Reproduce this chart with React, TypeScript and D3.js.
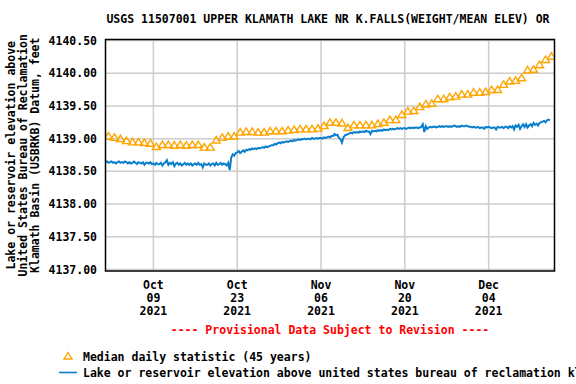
import React from 'react';
import * as d3 from 'd3';

const W = 576;
const H = 384;

const title = 'USGS 11507001 UPPER KLAMATH LAKE NR K.FALLS(WEIGHT/MEAN ELEV) OR';
const yTitleLines = [
  'Lake or reservoir elevation above',
  'United States Bureau of Reclamation',
  'Klamath Basin (USBRKB) Datum, feet',
];
const yTicks = [4137.0, 4137.5, 4138.0, 4138.5, 4139.0, 4139.5, 4140.0, 4140.5];
const xTickDates = ['2021-10-09', '2021-10-23', '2021-11-06', '2021-11-20', '2021-12-04'];
const legendMedian = 'Median daily statistic (45 years)';
const legendSeries =
  'Lake or reservoir elevation above united states bureau of reclamation klamath basin (usbrkb) datum, feet';

// daily median, Oct 1 .. Dec 14 (one per day, plotted at noon)
const medianValues = [
  4139.04, 4139.02, 4139.0, 4138.97, 4138.95, 4138.95, 4138.94, 4138.93, 4138.88, 4138.91,
  4138.91, 4138.9, 4138.91, 4138.9, 4138.91, 4138.91, 4138.87, 4138.87, 4138.98, 4139.02,
  4139.04, 4139.04, 4139.1, 4139.11, 4139.11, 4139.1, 4139.1, 4139.12, 4139.12, 4139.12,
  4139.13, 4139.14, 4139.15, 4139.15, 4139.15, 4139.16, 4139.2, 4139.25, 4139.25, 4139.24,
  4139.17, 4139.21, 4139.21, 4139.21, 4139.21, 4139.23, 4139.25, 4139.29, 4139.29, 4139.37,
  4139.42, 4139.43, 4139.49, 4139.53, 4139.54, 4139.61, 4139.61, 4139.64, 4139.65, 4139.68,
  4139.68, 4139.71, 4139.71, 4139.72, 4139.75, 4139.75, 4139.83, 4139.88, 4139.89, 4139.93,
  4140.05, 4140.06, 4140.13, 4140.21, 4140.26,
];

// lake elevation, every 6 hours from Oct 1 00:00
const elevValues = [
  4138.64, 4138.65, 4138.63, 4138.64, 4138.65, 4138.63, 4138.64, 4138.62,
  4138.64, 4138.65, 4138.63, 4138.64, 4138.63, 4138.65, 4138.64, 4138.62,
  4138.64, 4138.62, 4138.63, 4138.65, 4138.63, 4138.61, 4138.64, 4138.63,
  4138.62, 4138.64, 4138.6, 4138.63, 4138.63, 4138.62, 4138.64, 4138.61,
  4138.62, 4138.6, 4138.63, 4138.61, 4138.61, 4138.63, 4138.59, 4138.62,
  4138.64, 4138.67, 4138.6, 4138.63, 4138.61, 4138.64, 4138.58, 4138.62,
  4138.63, 4138.6, 4138.62, 4138.59, 4138.61, 4138.63, 4138.6, 4138.62,
  4138.6, 4138.62, 4138.59, 4138.61, 4138.62, 4138.6, 4138.63, 4138.6,
  4138.61, 4138.56, 4138.62, 4138.6, 4138.6, 4138.62, 4138.59, 4138.61,
  4138.62, 4138.59, 4138.63, 4138.6, 4138.61, 4138.63, 4138.6, 4138.62,
  4138.61, 4138.59, 4138.63, 4138.52, 4138.71, 4138.76, 4138.74, 4138.78,
  4138.79, 4138.81, 4138.78, 4138.8, 4138.82, 4138.8, 4138.83, 4138.82,
  4138.84, 4138.83, 4138.85, 4138.84, 4138.85, 4138.84, 4138.86, 4138.85,
  4138.86, 4138.87, 4138.86, 4138.88, 4138.87, 4138.88, 4138.89, 4138.9,
  4138.9, 4138.92, 4138.91, 4138.93, 4138.94, 4138.93, 4138.95, 4138.94,
  4138.95, 4138.96, 4138.95, 4138.96, 4138.97, 4138.96, 4138.98, 4138.97,
  4138.98, 4138.99, 4138.98, 4138.99, 4138.99, 4139.0, 4138.99, 4139.0,
  4139.0, 4138.99, 4139.01, 4139.0, 4139.0, 4139.01, 4139.0, 4139.01,
  4139.01, 4139.0, 4139.02, 4139.01, 4139.02, 4139.03, 4139.02, 4139.04,
  4139.04, 4139.07, 4139.05, 4139.06, 4139.01, 4138.99, 4138.94, 4139.02,
  4139.05, 4139.06, 4139.07, 4139.08, 4139.09, 4139.08, 4139.1, 4139.09,
  4139.1, 4139.09, 4139.11, 4139.1, 4139.11, 4139.1, 4139.12, 4139.11,
  4139.11, 4139.07, 4139.12, 4139.11, 4139.12, 4139.11, 4139.13, 4139.12,
  4139.13, 4139.12, 4139.14, 4139.13, 4139.14, 4139.13, 4139.15, 4139.14,
  4139.15, 4139.14, 4139.15, 4139.16, 4139.15, 4139.16, 4139.15, 4139.16,
  4139.16, 4139.15, 4139.16, 4139.17, 4139.16, 4139.17, 4139.16, 4139.17,
  4139.17, 4139.16, 4139.17, 4139.18, 4139.22, 4139.1, 4139.19, 4139.15,
  4139.17, 4139.18, 4139.17, 4139.18, 4139.18, 4139.17, 4139.18, 4139.19,
  4139.18, 4139.19, 4139.18, 4139.19, 4139.19, 4139.18, 4139.19, 4139.18,
  4139.19, 4139.2, 4139.19, 4139.18, 4139.19, 4139.18, 4139.2, 4139.19,
  4139.19, 4139.2, 4139.19, 4139.18, 4139.18, 4139.17, 4139.18, 4139.17,
  4139.17, 4139.18, 4139.16, 4139.17, 4139.17, 4139.15, 4139.18, 4139.17,
  4139.18, 4139.17, 4139.16, 4139.17, 4139.17, 4139.14, 4139.18, 4139.17,
  4139.17, 4139.18, 4139.16, 4139.18, 4139.18, 4139.16, 4139.19, 4139.17,
  4139.19, 4139.14, 4139.2, 4139.18, 4139.21, 4139.15, 4139.19, 4139.22,
  4139.18, 4139.22, 4139.17, 4139.2, 4139.22, 4139.19, 4139.24, 4139.21,
  4139.23, 4139.2, 4139.24, 4139.25, 4139.26, 4139.27, 4139.25, 4139.28,
  4139.29, 4139.28,
];

const font = '"DejaVu Sans Mono", monospace';
const fs = 11.5;
const orange = '#ffa500';
const blue = '#0a7fcc';

const App = () => {
  const left = 105.5;
  const right = 554.5;
  const top = 39.5;
  const bottom = 271;

  const start = Date.UTC(2021, 9, 1);
  const DAY = 86400000;
  const x = d3.scaleUtc().domain([new Date(start), new Date(Date.UTC(2021, 11, 15))]).range([left, right]);
  const y = d3.scaleLinear().domain([4137, 4140.5]).range([269.5, 40.5]);

  const elev = elevValues.map((v, i) => ({ t: new Date(start + i * DAY / 4), v }));
  const med = medianValues.map((v, i) => ({ t: new Date(start + i * DAY + DAY / 2), v }));

  const line = d3.line<{ t: Date; v: number }>().x(d => x(d.t)).y(d => y(d.v));
  const tri = 'M0,-3.5L4,3L-4,3Z';
  const fmtMon = d3.utcFormat('%b');
  const fmtDay = d3.utcFormat('%d');
  const fmtYr = d3.utcFormat('%Y');
  const midY = (top + bottom) / 2;

  return (
    <svg width={W} height={H} style={{ position: 'absolute', left: 0, top: 0, background: '#fff' }}
      fontFamily={font} fontWeight="bold" fontSize={fs}>
      <defs>
        <clipPath id="plotClip">
          <rect x={left} y={top} width={right - left} height={bottom - top} />
        </clipPath>
      </defs>
      <text x={328} y={23} textAnchor="middle">{title}</text>

      {/* grid */}
      <g stroke="#cccccc" strokeWidth={1.5}>
        {yTicks.map(t => <line key={t} x1={left} x2={right} y1={y(t)} y2={y(t)} />)}
        {xTickDates.map(s => {
          const xx = x(new Date(s + 'T00:00:00Z'));
          return <line key={s} x1={xx} x2={xx} y1={top} y2={bottom} />;
        })}
      </g>

      {/* y labels */}
      {yTicks.map(t => (
        <text key={t} x={97} y={y(t) + 4} textAnchor="end">{d3.format('.2f')(t)}</text>
      ))}
      {yTitleLines.map((s, i) => (
        <text key={s} transform={`translate(${15 + i * 12},${midY}) rotate(-90)`} textAnchor="middle">{s}</text>
      ))}

      {/* x labels */}
      {xTickDates.map(s => {
        const d = new Date(s + 'T00:00:00Z');
        const xx = x(d);
        return (
          <g key={s} textAnchor="middle">
            <text x={xx} y={289}>{fmtMon(d)}</text>
            <text x={xx} y={302}>{fmtDay(d)}</text>
            <text x={xx} y={315}>{fmtYr(d)}</text>
          </g>
        );
      })}
      <text x={(left + right) / 2} y={334} textAnchor="middle" fill="#ff0000">
        ---- Provisional Data Subject to Revision ----
      </text>

      <g clipPath="url(#plotClip)">
        <path d={line(elev) || ''} fill="none" stroke={blue} strokeWidth={2} />
        {med.map((d, i) => (
          <path key={i} d={tri} transform={`translate(${x(d.t)},${y(d.v)})`} fill="none" stroke={orange} strokeWidth={1.4} />
        ))}
      </g>

      <rect x={left} y={top} width={right - left} height={bottom - top} fill="none" stroke="#000" strokeWidth={1.5} />

      {/* legend */}
      <path d={tri} transform="translate(68,356)" fill="none" stroke={orange} strokeWidth={1.4} />
      <text x={83} y={361}>{legendMedian}</text>
      <line x1={59} x2={77} y1={372.5} y2={372.5} stroke={blue} strokeWidth={1.6} />
      <text x={83} y={377}>{legendSeries}</text>
    </svg>
  );
};

export default App;
